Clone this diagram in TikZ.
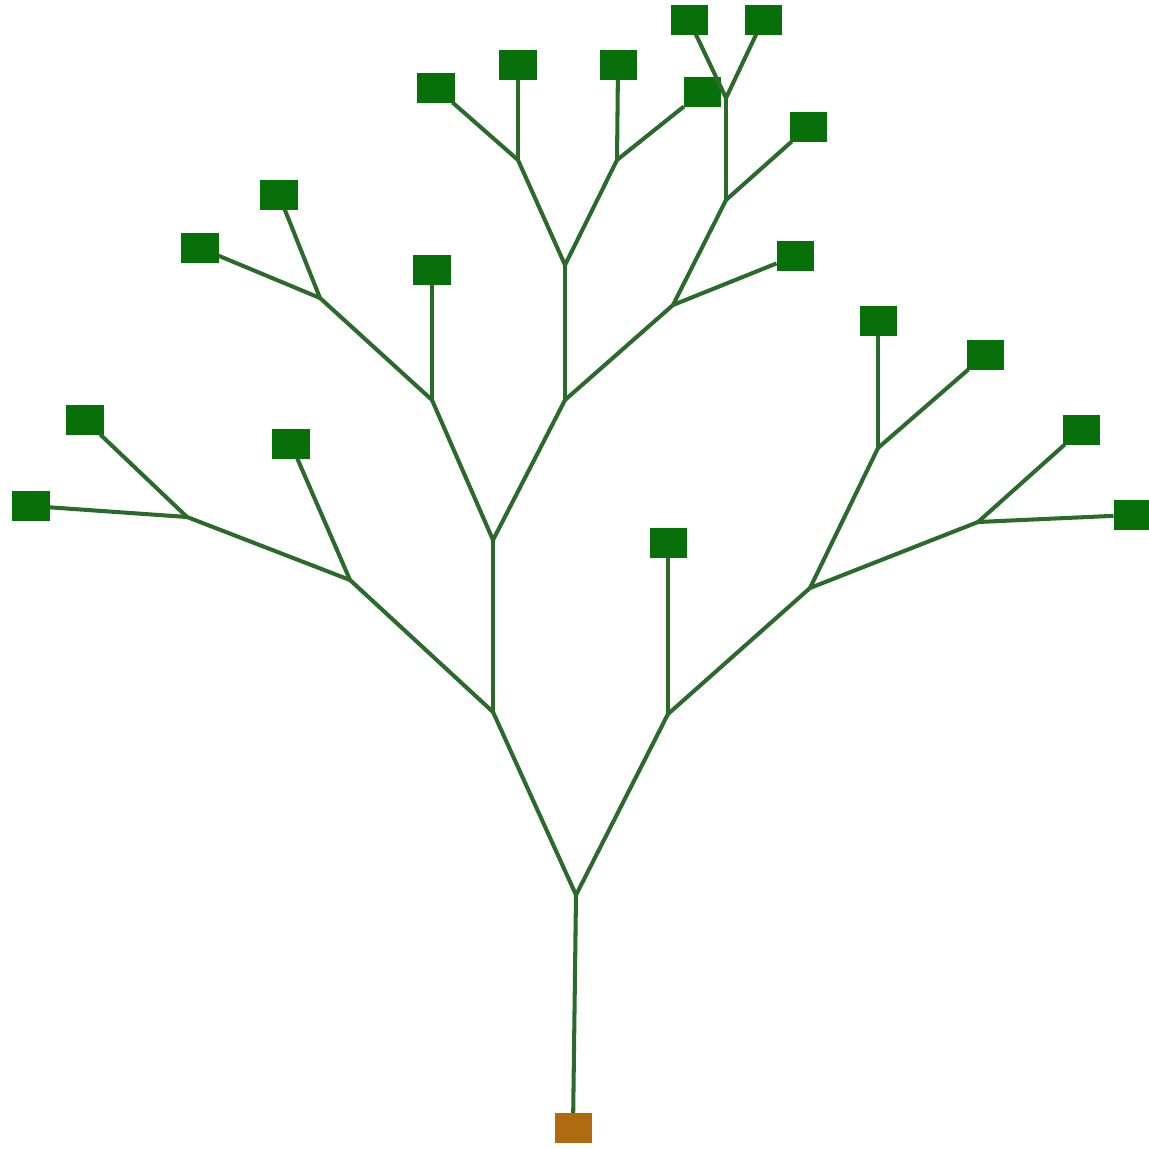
\documentclass[tikz,border=0pt]{standalone}
\begin{document}
\begin{tikzpicture}[x=0.01cm,y=-0.01cm,
  leaf/.style={draw=none,fill=leafgreen,minimum width=0.37cm,minimum height=0.29cm,inner sep=0pt,outer sep=0pt},
  rootbox/.style={draw=none,fill=rootbrown,minimum width=0.37cm,minimum height=0.30cm,inner sep=0pt,outer sep=0pt},
  branch/.style={draw=stemgreen,line width=1.15pt}]
\definecolor{leafgreen}{HTML}{08700A}
\definecolor{stemgreen}{HTML}{2C6A2C}
\definecolor{rootbrown}{HTML}{B06A10}
\useasboundingbox (0,0) rectangle (1148,1149);
% junctions
\coordinate (j0) at (576,895);
\coordinate (jl) at (493,712);
\coordinate (jr) at (668,714);
\coordinate (jla) at (493,540);
\coordinate (jlb) at (350,580);
\coordinate (jlc) at (187,517);
\coordinate (jm1) at (432,400);
\coordinate (jm2) at (320,298);
\coordinate (jm3) at (565,400);
\coordinate (jm4) at (565,265);
\coordinate (jm5) at (518,160);
\coordinate (jm6) at (617,160);
\coordinate (jm7) at (673,305);
\coordinate (jm8) at (726,200);
\coordinate (jm9) at (726,98);
\coordinate (jr1) at (810,588);
\coordinate (jr2) at (878,448);
\coordinate (jr3) at (978,522);
% nodes
\node[rootbox] (root) at (573,1128) {};
\node[leaf] (l1) at (291,444) {};
\node[leaf] (l2) at (85,420) {};
\node[leaf] (l3) at (31,506) {};
\node[leaf] (l4) at (432,270) {};
\node[leaf] (l5) at (279,195) {};
\node[leaf] (l6) at (200,248) {};
\node[leaf] (l7) at (436,88) {};
\node[leaf] (l8) at (518,65) {};
\node[leaf] (l9) at (618,65) {};
\node[leaf] (l10) at (702,92) {};
\node[leaf] (l11) at (795,256) {};
\node[leaf] (l12) at (808,127) {};
\node[leaf] (l13) at (689,20) {};
\node[leaf] (l14) at (763,20) {};
\node[leaf] (l15) at (668,543) {};
\node[leaf] (l16) at (878,321) {};
\node[leaf] (l17) at (985,355) {};
\node[leaf] (l18) at (1081,430) {};
\node[leaf] (l19) at (1132,515) {};
% branches
\begin{scope}[on background layer/.style={}]
\draw[branch] (root) -- (j0);
\draw[branch] (j0) -- (jl);
\draw[branch] (j0) -- (jr);
\draw[branch] (jl) -- (jla);
\draw[branch] (jl) -- (jlb);
\draw[branch] (jlb) -- (l1);
\draw[branch] (jlb) -- (jlc);
\draw[branch] (jlc) -- (l2);
\draw[branch] (jlc) -- (l3);
\draw[branch] (jla) -- (jm1);
\draw[branch] (jla) -- (jm3);
\draw[branch] (jm1) -- (l4);
\draw[branch] (jm1) -- (jm2);
\draw[branch] (jm2) -- (l5);
\draw[branch] (jm2) -- (l6);
\draw[branch] (jm3) -- (jm4);
\draw[branch] (jm3) -- (jm7);
\draw[branch] (jm4) -- (jm5);
\draw[branch] (jm4) -- (jm6);
\draw[branch] (jm5) -- (l7);
\draw[branch] (jm5) -- (l8);
\draw[branch] (jm6) -- (l9);
\draw[branch] (jm6) -- (l10);
\draw[branch] (jm7) -- (l11);
\draw[branch] (jm7) -- (jm8);
\draw[branch] (jm8) -- (l12);
\draw[branch] (jm8) -- (jm9);
\draw[branch] (jm9) -- (l13);
\draw[branch] (jm9) -- (l14);
\draw[branch] (jr) -- (l15);
\draw[branch] (jr) -- (jr1);
\draw[branch] (jr1) -- (jr2);
\draw[branch] (jr1) -- (jr3);
\draw[branch] (jr2) -- (l16);
\draw[branch] (jr2) -- (l17);
\draw[branch] (jr3) -- (l18);
\draw[branch] (jr3) -- (l19);
\end{scope}
\end{tikzpicture}
\end{document}
